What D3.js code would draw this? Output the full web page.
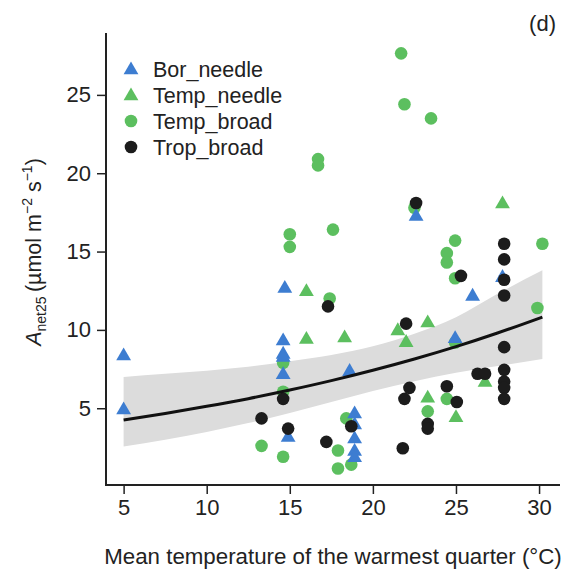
<!DOCTYPE html>
<html>
<head>
<meta charset="utf-8">
<script src="https://cdn.jsdelivr.net/npm/d3@7"></script>
<style>
html,body{margin:0;padding:0;background:#fff;}
svg{display:block;font-family:"Liberation Sans",Arial,sans-serif;}
</style>
</head>
<body>
<svg id="chart" width="570" height="571"></svg>
<script>
// ---- data ----
const seriesNames = ["Bor_needle", "Temp_needle", "Temp_broad", "Trop_broad"];
const borNeedle = [[5,8.4],[5,4.95],[14.7,12.7],[14.6,9.35],[14.6,8.5],[14.6,8.3],[14.6,7.2],[14.9,3.2],
  [18.6,7.4],[18.9,4.7],[18.9,4.0],[18.9,3.1],[18.9,2.3],[18.9,1.9],[22.6,17.3],[26.0,12.2],[24.95,9.5],[27.8,13.4]];
const tempNeedle = [[16.0,12.5],[16.0,9.45],[18.3,9.55],[21.5,10.0],[22.0,9.25],[23.3,10.5],[27.8,18.1],
  [23.3,5.7],[25.0,4.45],[26.75,6.7]];
const tempBroad = [[21.7,27.65],[21.9,24.4],[23.5,23.5],[16.7,20.9],[16.7,20.5],[15.0,16.1],[15.0,15.3],
  [17.6,16.4],[17.4,12.0],[22.5,17.8],[24.95,15.7],[24.45,14.9],[24.45,14.3],[24.95,13.3],[30.2,15.5],
  [29.9,11.4],[24.95,9.2],[24.45,5.6],[23.3,4.8],[13.3,2.6],[14.6,1.9],[17.9,2.3],[17.9,1.15],[18.7,1.4],
  [18.4,4.35],[14.6,7.9],[14.6,6.05]];
const tropBroad = [[22.6,18.1],[17.3,11.5],[22.0,10.4],[27.9,15.5],[27.9,14.5],[27.9,13.2],[27.9,12.2],
  [25.3,13.45],[27.9,8.9],[27.9,7.45],[27.9,6.7],[27.9,6.3],[27.9,5.6],[26.3,7.2],[26.75,7.2],[24.45,6.4],
  [25.05,5.4],[23.3,4.0],[23.3,3.7],[22.2,6.3],[21.9,5.6],[21.8,2.45],[14.6,5.6],[13.3,4.35],[14.9,3.7],
  [17.2,2.85],[18.7,3.85]];
const fitX  = [5, 7.5, 10, 12.5, 15, 17.5, 20, 22.5, 25, 27.5, 30.2];
const fitY  = [4.25, 4.66, 5.12, 5.61, 6.16, 6.76, 7.42, 8.14, 8.93, 9.80, 10.82];
const fitLo = [2.56, 2.99, 3.49, 4.06, 4.70, 5.39, 6.10, 6.73, 7.26, 7.69, 8.15];
const fitHi = [7.0, 7.2, 7.4, 7.65, 8.0, 8.4, 8.95, 9.75, 10.8, 12.3, 13.8];
const xTicks = [5, 10, 15, 20, 25, 30];
const yTicks = [5, 10, 15, 20, 25];

// ---- layout ----
const svg = d3.select("#chart");
const x = d3.scaleLinear().domain([3.94, 31.26]).range([106, 560]);
const y = d3.scaleLinear().domain([0.1, 28.95]).range([485, 33]);
const ink = "#222";
const colors = {Bor_needle:"#3d7dd1", Temp_needle:"#5cbf5f", Temp_broad:"#5cbf5f", Trop_broad:"#1c1c1c"};
const shapes = {Bor_needle:"tri", Temp_needle:"tri", Temp_broad:"circ", Trop_broad:"circ"};
const triPath = d3.symbol().type(d3.symbolTriangle).size(95)();

// confidence band
const band = fitX.map((v,i)=>({x:v, lo:fitLo[i], hi:fitHi[i], y:fitY[i]}));
svg.append("path").datum(band)
  .attr("d", d3.area().x(d=>x(d.x)).y0(d=>y(d.lo)).y1(d=>y(d.hi)).curve(d3.curveMonotoneX))
  .attr("fill", "#dcdcdc");

function drawPts(name, data){
  const g = svg.append("g");
  if (shapes[name]==="tri"){
    g.selectAll("path").data(data).join("path")
      .attr("d", triPath)
      .attr("transform", d=>`translate(${x(d[0])},${y(d[1])+1})`)
      .attr("fill", colors[name]);
  } else {
    g.selectAll("circle").data(data).join("circle")
      .attr("cx", d=>x(d[0])).attr("cy", d=>y(d[1])).attr("r", 6.3)
      .attr("fill", colors[name]);
  }
}
drawPts("Temp_broad", tempBroad);
drawPts("Bor_needle", borNeedle);
drawPts("Temp_needle", tempNeedle);
drawPts("Trop_broad", tropBroad);

// fitted line
svg.append("path").datum(band)
  .attr("d", d3.line().x(d=>x(d.x)).y(d=>y(d.y)).curve(d3.curveMonotoneX))
  .attr("fill","none").attr("stroke","#111").attr("stroke-width",3);

// axes
const xAxis = svg.append("g").attr("transform","translate(0,485)")
  .call(d3.axisBottom(x).tickValues(xTicks).tickSize(9).tickPadding(5).tickFormat(d3.format("d")));
const yAxis = svg.append("g").attr("transform","translate(106,0)")
  .call(d3.axisLeft(y).tickValues(yTicks).tickSize(9).tickPadding(6).tickFormat(d3.format("d")));
[xAxis, yAxis].forEach(a=>{
  a.select(".domain").remove();
  a.selectAll(".tick line").attr("stroke", ink).attr("stroke-width", 1.5);
  a.selectAll(".tick text").attr("fill", ink).attr("font-size", 22)
    .attr("font-family","Liberation Sans, Arial, sans-serif");
});
svg.append("line").attr("x1",106).attr("x2",106).attr("y1",y.range()[1]).attr("y2",486)
  .attr("stroke",ink).attr("stroke-width",2);
svg.append("line").attr("x1",105).attr("x2",x.range()[1]).attr("y1",485).attr("y2",485)
  .attr("stroke",ink).attr("stroke-width",2);

// x title
svg.append("text").attr("x", 333).attr("y", 564).attr("text-anchor","middle")
  .attr("font-size", 22.3).attr("fill", ink)
  .text("Mean temperature of the warmest quarter (°C)");

// y title
const yt = svg.append("text").attr("transform","translate(41,252) rotate(-90)")
  .attr("text-anchor","middle").attr("font-size", 21.5).attr("fill", ink);
yt.append("tspan").attr("font-style","italic").text("A");
yt.append("tspan").attr("font-size",14).attr("dy",5).text("net25");
yt.append("tspan").attr("dy",-5).text("\u2009(\u00b5mol m");
yt.append("tspan").attr("font-size",14).attr("dy",-9).text("\u22122");
yt.append("tspan").attr("dy",9).text(" s");
yt.append("tspan").attr("font-size",14).attr("dy",-9).text("\u22121");
yt.append("tspan").attr("dy",9).text(")");

// panel label
svg.append("text").attr("x", 556).attr("y", 31).attr("text-anchor","end")
  .attr("font-size", 22).attr("fill", ink).text("(d)");

// legend
const leg = svg.append("g");
seriesNames.forEach((name,i)=>{
  const cy = 69 + i*26;
  if (shapes[name]==="tri"){
    leg.append("path").attr("d", triPath).attr("transform",`translate(131,${cy+1})`).attr("fill", colors[name]);
  } else {
    leg.append("circle").attr("cx",131).attr("cy",cy).attr("r",6.3).attr("fill",colors[name]);
  }
  leg.append("text").attr("x",153).attr("y",cy).attr("dy","0.36em")
    .attr("font-size",21.5).attr("fill",ink).text(name);
});
</script>
</body>
</html>
